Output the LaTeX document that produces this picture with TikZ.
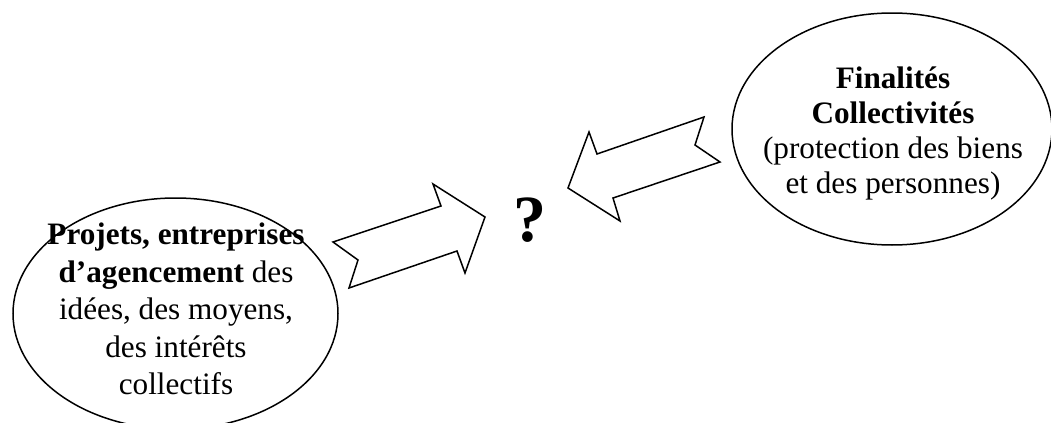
\documentclass[tikz,border=0pt]{standalone}
\usepackage{fontspec}
\setmainfont{Liberation Serif}
\usetikzlibrary{shapes.geometric}
\tikzset{
  bubble/.style    = {ellipse, draw, line width=0.75pt, inner sep=0pt},
  bubbletxt/.style = {align=center, inner sep=0pt, font=\fontsize{15.6}{#1}\selectfont},
  blockarrow/.style = {draw, line width=0.75pt, line join=miter, fill=white},
  qmark/.style     = {inner sep=0pt, font=\fontsize{33}{36}\selectfont\bfseries},
}
\begin{document}
\begin{tikzpicture}[x=0.5pt,y=-0.5pt]
  \useasboundingbox (0,0) rectangle (1051,423);
  % the two bubbles
  \node[bubble, minimum width=162.5pt, minimum height=115.6pt] (projets) at (175.5,313.6) {};
  \node[bubble, minimum width=160pt, minimum height=116pt] (finalites) at (892,129) {};
  \node[bubbletxt=18.75pt] (projtxt) at (176,309)
    {\textbf{Projets, entreprises}\\ \textbf{d’agencement} des\\ idées, des moyens,\\ des intérêts\\ collectifs};
  \node[bubbletxt=17.5pt] (fintxt) at (893,133)
    {\textbf{Finalités}\\ \textbf{Collectivités}\\ (protection des biens\\ et des personnes)};
  \node[qmark] (quest) at (530,220) {?};
  % block arrows towards the question
  \draw[blockarrow] (333,242) -- (358,260) -- (349,288) -- (457,251) -- (465,273)
    -- (485,217) -- (433,184) -- (441,206) -- cycle;
  \draw[blockarrow] (704,117) -- (695,145) -- (720,162) -- (613,198) -- (620,221)
    -- (568,188) -- (589,132) -- (597,154) -- cycle;
\end{tikzpicture}
\end{document}
